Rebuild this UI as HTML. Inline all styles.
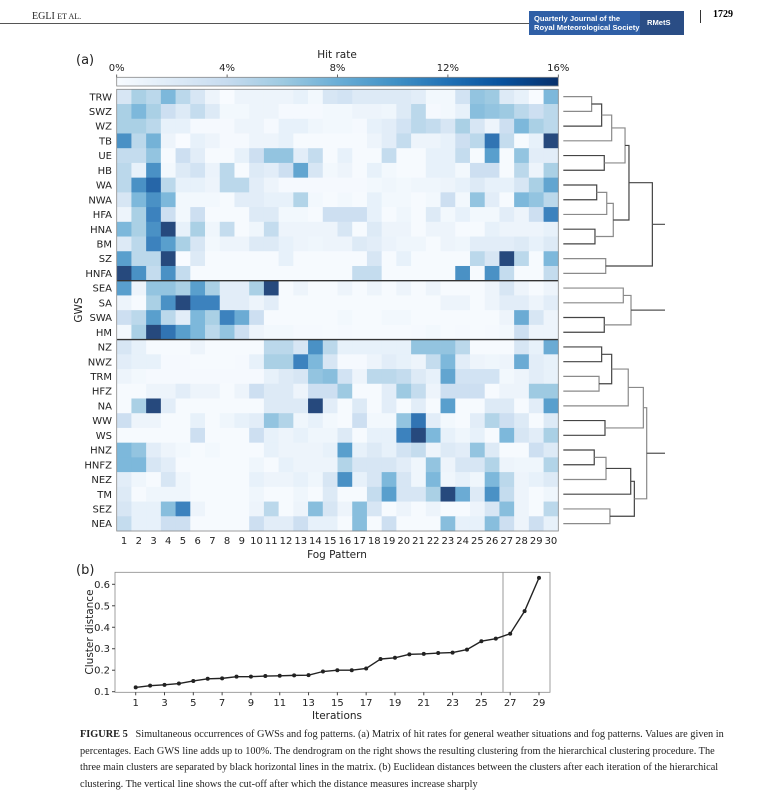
<!DOCTYPE html>
<html><head><meta charset="utf-8">
<style>
html,body{margin:0;padding:0;background:#fff;}
body{width:766px;height:801px;position:relative;overflow:hidden;font-family:"DejaVu Sans","Liberation Sans",sans-serif;}
.cap{position:absolute;left:80px;top:727px;width:648px;font-family:"Liberation Serif",serif;font-size:10.3px;line-height:16.6px;color:#222;}
</style></head><body>
<div style="position:absolute;left:32px;top:11px;font-family:'Liberation Serif',serif;font-size:10px;color:#222;">EGLI <span style="font-size:8px">ET AL.</span></div>
<div style="position:absolute;left:0;top:23px;width:529px;height:1px;background:#555;"></div>
<div style="position:absolute;left:529px;top:11px;width:155px;height:24px;background:#2f5fa6;color:#fff;font-family:'Liberation Sans',sans-serif;font-weight:bold;font-size:7.6px;line-height:9px;">
<div style="position:absolute;left:5px;top:3px;">Quarterly Journal of the<br>Royal Meteorological Society</div>
<div style="position:absolute;left:111px;top:0;width:44px;height:24px;background:#2a4d85;"><span style="position:absolute;left:7px;top:7px;">RMetS</span></div></div>
<div style="position:absolute;left:700px;top:10px;width:1px;height:13px;background:#333;"></div>
<div style="position:absolute;left:713px;top:9px;font-family:'Liberation Serif',serif;font-weight:bold;font-size:10px;">1729</div>

<svg id="chart" width="766" height="801" style="position:absolute;left:0;top:0" xmlns="http://www.w3.org/2000/svg">
<defs><linearGradient id="cb" x1="0" x2="1" y1="0" y2="0">
<stop offset="0" stop-color="#f7fbff"/><stop offset=".125" stop-color="#deebf7"/><stop offset=".25" stop-color="#c6dbef"/><stop offset=".375" stop-color="#9ecae1"/><stop offset=".5" stop-color="#6baed6"/><stop offset=".625" stop-color="#4292c6"/><stop offset=".75" stop-color="#2171b5"/><stop offset=".875" stop-color="#08519c"/><stop offset="1" stop-color="#08306b"/></linearGradient></defs>
<g id="heat"></g>
<g id="cbar"></g>
<g id="dendro"></g>
<g id="lineb"></g>
</svg>
<div class="cap"><b>FIGURE 5</b>&nbsp;&nbsp; Simultaneous occurrences of GWSs and fog patterns. (a) Matrix of hit rates for general weather situations and fog patterns. Values are given in percentages. Each GWS line adds up to 100%. The dendrogram on the right shows the resulting clustering from the hierarchical clustering procedure. The three main clusters are separated by black horizontal lines in the matrix. (b) Euclidean distances between the clusters after each iteration of the hierarchical clustering. The vertical line shows the cut-off after which the distance measures increase sharply</div>
<script>
const rowLabels=["TRW","SWZ","WZ","TB","UE","HB","WA","NWA","HFA","HNA","BM","SZ","HNFA","SEA","SA","SWA","HM","NZ","NWZ","TRM","HFZ","NA","WW","WS","HNZ","HNFZ","NEZ","TM","SEZ","NEA"];
const colLabels=[1,2,3,4,5,6,7,8,9,10,11,12,13,14,15,16,17,18,19,20,21,22,23,24,25,26,27,28,29,30];
const cbTicks=[0,4,8,12,16];
const hitRates=[
[3,6,5,8,5,3,1,0,1,1,1,1,1.5,0.5,3,3.5,2.5,2.5,2.5,2.5,2,0.5,0.5,3.5,7,6.5,2.5,1.5,0,8],
[6,8,6,4,2.5,4.5,2.5,0.5,0.5,1,1,0.3,0.3,0.3,0.5,0.5,1,1,0.8,2.5,5,0.3,0.5,1.5,7.5,7,6.5,5,4,5],
[6,6,5,1.5,1.5,0.3,0.3,0.3,1,1,0.3,1.5,1.5,0.8,0.5,0.5,0.3,1.5,2,3.5,5,4.5,3,6,3,1,4,8,6,5],
[11,5,8.5,1,0,1.5,1,0.3,0.3,1,1,1.5,0.2,0.2,0.2,0.2,0.2,1,2,4.5,1,1,1.5,4,5,13,4.5,0.2,1.5,16],
[4.5,4.5,7,0.2,4,2,0.2,0.2,1.5,4,7,7,2,4.5,0.2,1.5,0.2,0.2,4.5,0.2,0.2,1.5,1.5,4.5,0.2,10,0.2,7,2,2],
[5,1.5,11,0.5,2.5,3.5,1.2,5,0.2,2.5,2,4,9.5,3,0.5,1,0.2,1.5,0.5,0.2,0.2,1.5,1.5,0.5,4,4,0.2,5,1,6],
[5,11,14,5,1.5,1.5,1,5,5,2,1,0.3,0.3,0.3,0.3,0.3,0.3,0.5,0.8,0.5,0.8,0.8,1,1.5,2.5,1.5,1.5,3,6,9.5],
[3,8,11,8,0.5,0.5,0.5,0.2,2,2,1.5,1.5,5.5,0.5,0.2,0.5,0.2,1.5,0.5,0.5,0.2,0.5,4,0.5,7,2,0.2,8,7,5],
[1,6,12,4,0.5,4,0.2,0.2,0.2,2.5,2.5,0.5,0.5,0.2,4,4,4,1.5,0.2,0.8,0.2,2.5,0.5,1.5,0.5,0.5,2,1,4,12],
[8,6,11,16,1.5,6,0.8,4.5,0.2,0.8,4.5,1,1,1,1,3,0.2,2.5,1,1,0.2,1,1,0.2,0.2,1.5,1,1,1,1.5],
[2.5,5,12,10,6,3,0.5,1,1,2.5,2.5,1.5,1,0.8,1,1,2.5,2,1.2,0.8,0.8,0.2,1,0.8,2,2,2,2.5,1.5,2.5],
[10,5,5,16,0,2.5,0.2,0.2,0.2,0.2,0.2,1.5,0.2,0.2,0.2,0.2,0.2,3,0.2,1.5,0.2,0.2,0.2,0.2,5,3,16,5,0.2,8],
[16,11,4.5,11,4.5,0.2,0.2,0.2,0.2,0.2,0.2,0.2,0.2,0.2,0.2,0.2,4.5,4.5,0.2,0.2,0.2,0.2,0.2,11,0.2,11,4.5,0.2,0.2,4.5],
[10,1,7,7,6,10,6,2,2,6,16,0.2,1,0.2,0.2,1,0.2,1,0.2,1,0.2,1,0.2,0.2,0.2,1,3,1,0.2,1],
[1,0.2,6,11,16,12,12,2,2,1,2,0.2,0.2,0.2,0.2,0.2,0.2,0.2,0.2,0.2,0.2,0.2,1,1,0.2,1,2,2,1,2],
[4,5,10,5,2,8,6,12,9,4,0.2,0.2,0.2,0.2,0.2,0.5,0.2,0.2,0.5,0.5,0.2,0.2,0.2,0.2,0.2,0.2,1,9,3,1],
[0.5,6,16,13,10,8,5,7,4,1,0.5,0.5,0.3,0.3,0.2,0.3,0.2,0.2,0.2,0.2,0.3,0.5,0.2,0.3,0.2,0.3,0.5,4,1,1],
[3,1.5,0.2,0.2,0.2,1,0.2,0.2,0.2,0.2,5,5,3,11,5,1.5,1.5,1.5,1.5,1.5,7,7,7,5,0.2,0.2,0.2,3,1.5,9],
[2,1.5,1.5,0.3,0.3,0.2,0.2,0.2,0.3,1.5,6,6,12,8,3,0.3,0.3,1,2,1.5,1,4.5,8,2,1,0.8,1,9,2,1.5],
[1,0.5,0.3,0.3,0.3,0.3,0.3,0.3,0.3,0.3,1.5,2.5,3,7,7.5,3.5,1,5,5,4.5,2.5,1.5,9.5,3.5,3.5,3.5,0.5,1,2,1.5],
[0.2,0.2,1,1,2,1,1,0.2,1,4,2.5,2.5,1,4,4,6.5,0.2,0.2,2,6.5,4.5,1,4,4,4,0.2,1,1,6.5,6.5],
[0.2,6,16,2,0.2,0.2,0.2,0.2,0.2,0.2,2.5,2.5,2.5,16,2,0.2,2.5,0.2,2,0.2,2,0.2,10,0.2,0.2,2.5,2.5,0.2,2,10],
[4,1,1,0.2,0.2,1.5,0.2,0.8,1.5,2,7,5.5,0.8,1.5,0.5,0.2,4,0.5,0.5,7,13,2,0.5,0.2,2,5.5,4,2.5,0.2,2.5],
[0.2,0.2,0.2,0.2,0.2,4,0.2,0.2,0.2,4,1.5,1,1.5,0.8,0.8,2.5,0.2,1.5,1.5,12,16,8,1.5,0.8,1.5,0.2,8,3,2,6],
[8,7,2,1,0.5,0.2,0.5,0.2,0.2,0.2,1.5,1,1,1,1.5,10,1.5,2.5,1.5,3.5,4.5,1,2.5,2,7,2.5,0.2,0.2,4,2.5],
[8,8,3,2,0.2,0.2,0.2,0.2,0.2,0.8,0.2,1.5,1,1,1,5.5,3,3,3,2,0.8,7,1,3,3,5.5,1,0.8,0.8,5.5],
[2,0.8,0.2,3,0.8,0.2,0.2,0.2,0.2,1.5,1,1,1.5,0.8,3,11,1.5,3,8,3,0.8,8,0.8,1.5,0.8,8,5,1,1.5,2.5],
[2.5,0.2,0.8,0.8,0.8,0.2,0.2,0.2,0.2,0.8,0.2,0.2,0.8,0.2,2.5,0.2,0.2,4.5,10,3,3,6,16,9,2.5,11,4.5,1,0.2,0.8],
[3,1.5,1.5,7.5,12,1,0.2,0.2,0.2,1,5,0.2,1,7.5,3,1,7.5,3,0.2,1,0.2,1,0.2,0.2,1,3,7.5,1,0.2,5],
[4.5,1.5,1.5,4,4,0.2,0.2,0.2,0.2,4,2,2,4,1.5,1.5,0.2,7.5,0.2,4,0.2,0.2,0.2,7.5,1.5,1.5,7.5,4,1,4,1.5]];
const clusterBreaks=[13,17];
// dendrogram merges: [leftNode,rightNode,height]; leaves are row indices, new nodes numbered from 30
const merges=[[0,1,0.195],[30,2,0.264],[31,3,0.333],[4,5,0.282],[32,33,0.425],[6,7,0.23],[35,8,0.299],[9,10,0.218],[36,37,0.344],[34,38,0.452],[11,12,0.292],[39,40,0.613],
[13,14,0.413],[15,16,0.282],[42,43,0.466],[17,18,0.264],[19,20,0.246],[45,46,0.333],[47,21,0.447],[22,23,0.287],[48,49,0.551],[24,25,0.213],[51,26,0.294],[52,27,0.464],[28,29,0.321],[53,54,0.489],[50,55,0.574]];
const iterations=[1,2,3,4,5,6,7,8,9,10,11,12,13,14,15,16,17,18,19,20,21,22,23,24,25,26,27,28,29];
const distances=[0.12,0.128,0.132,0.138,0.15,0.16,0.162,0.17,0.17,0.173,0.174,0.176,0.177,0.194,0.2,0.2,0.208,0.252,0.258,0.274,0.276,0.28,0.282,0.296,0.335,0.347,0.37,0.475,0.63];
const xTicksB=[1,3,5,7,9,11,13,15,17,19,21,23,25,27,29];
const yTicksB=[0.1,0.2,0.3,0.4,0.5,0.6];
const cutoff=26.5;

const NS="http://www.w3.org/2000/svg";
function mk(p,t,a,txt){const e=document.createElementNS(NS,t);for(const k in a)e.setAttribute(k,a[k]);if(txt!==undefined)e.textContent=txt;p.appendChild(e);return e;}
const stops=[[247,251,255],[222,235,247],[198,219,239],[158,202,225],[107,174,214],[66,146,198],[33,113,181],[8,81,156],[8,48,107]];
function cmap(v){let t=Math.max(0,Math.min(1,v/16))*8;let i=Math.min(7,Math.floor(t)),f=t-i;const c=stops[i].map((s,k)=>Math.round((s+(stops[i+1][k]-s)*f)*0.88+255*0.12));return `rgb(${c[0]},${c[1]},${c[2]})`;}
const HX0=116.7,HX1=558.3,HY0=89.3,HY1=531;
const cw=(HX1-HX0)/colLabels.length,rh=(HY1-HY0)/rowLabels.length;
const hx=j=>HX0+j*cw, hy=i=>HY0+i*rh;
const heat=document.getElementById('heat');
hitRates.forEach((row,i)=>row.forEach((v,j)=>{const r=mk(heat,'rect',{x:hx(j),y:hy(i),width:cw+0.4,height:rh+0.4,fill:cmap(v)});

}));
rowLabels.forEach((l,i)=>{const t=mk(heat,'text',{x:112,y:hy(i)+rh/2+3.6,'text-anchor':'end','font-size':10,fill:'#222'},l);

});
colLabels.forEach((l,j)=>{const t=mk(heat,'text',{x:hx(j)+cw/2,y:544,'text-anchor':'middle','font-size':10,fill:'#222'},l);

});
clusterBreaks.forEach(b=>{const l=mk(heat,'line',{x1:HX0,x2:HX1,y1:hy(b),y2:hy(b),stroke:'#333','stroke-width':1.4});

});
mk(heat,'rect',{x:HX0,y:HY0,width:HX1-HX0,height:HY1-HY0,fill:'none',stroke:'#888','stroke-width':0.8});
let t=mk(heat,'text',{x:337,y:558,'text-anchor':'middle','font-size':10.5,fill:'#222'},'Fog Pattern');

t=mk(heat,'text',{x:82,y:310,'text-anchor':'middle','font-size':10.5,fill:'#222',transform:'rotate(-90 82 310)'},'GWS');

t=mk(heat,'text',{x:76,y:64,'font-size':13,fill:'#222'},'(a)');

// colorbar
const cb=document.getElementById('cbar');
mk(cb,'rect',{x:HX0,y:77.3,width:HX1-HX0,height:8.7,fill:'url(#cb)',stroke:'#888','stroke-width':0.8});
const cx=v=>HX0+(HX1-HX0)*v/16;
cbTicks.forEach(v=>{const e=mk(cb,'text',{x:cx(v),y:71,'text-anchor':'middle','font-size':10,fill:'#222'},v+'%');


mk(cb,'line',{x1:cx(v),x2:cx(v),y1:74.5,y2:77.3,stroke:'#444','stroke-width':0.8});});
t=mk(cb,'text',{x:337,y:58,'text-anchor':'middle','font-size':10.5,fill:'#222'},'Hit rate');

// dendrogram
const dg=document.getElementById('dendro');
const DX0=563.3,DX1=665,DH=0.7;
const dx=h=>DX0+(DX1-DX0)*h/DH;
const pos={},ht={};
rowLabels.forEach((l,i)=>{pos[i]=hy(i)+rh/2;ht[i]=0;});
merges.forEach((m,k)=>{const id=30+k,[a,b,h]=m;
const p=mk(dg,'path',{d:`M${dx(ht[a])},${pos[a]}H${dx(h)}V${pos[b]}H${dx(ht[b])}`,fill:'none',stroke:k%2?'#444':'#8a8a8a','stroke-width':1.2});


pos[id]=(pos[a]+pos[b])/2;ht[id]=h;});
[41,44,56].forEach(n=>{mk(dg,'line',{x1:dx(ht[n]),x2:DX1,y1:pos[n],y2:pos[n],stroke:'#555','stroke-width':1.2});});
// panel b
const lb=document.getElementById('lineb');
const BX0=115,BX1=550,BY0=572.3,BY1=692.3;
const bx=v=>135.7+(v-1)*(539-135.7)/28, by=v=>691.7-(v-0.1)*(691.7-584.3)/0.5;
mk(lb,'rect',{x:BX0,y:BY0,width:BX1-BX0,height:BY1-BY0,fill:'none',stroke:'#888','stroke-width':0.8});
xTicksB.forEach(v=>{mk(lb,'line',{x1:bx(v),x2:bx(v),y1:BY1,y2:BY1+3,stroke:'#444'});
const e=mk(lb,'text',{x:bx(v),y:706,'text-anchor':'middle','font-size':10,fill:'#222'},v);

});
yTicksB.forEach(v=>{mk(lb,'line',{x1:BX0-3,x2:BX0,y1:by(v),y2:by(v),stroke:'#444'});
const e=mk(lb,'text',{x:BX0-5,y:by(v)+3.5,'text-anchor':'end','font-size':10,fill:'#222'},v.toFixed(1));

});
t=mk(lb,'line',{x1:bx(cutoff),x2:bx(cutoff),y1:BY0,y2:BY1,stroke:'#999','stroke-width':1});

t=mk(lb,'polyline',{points:iterations.map((v,i)=>bx(v)+','+by(distances[i])).join(' '),fill:'none',stroke:'#222','stroke-width':1.4});

iterations.forEach((v,i)=>{const c=mk(lb,'circle',{cx:bx(v),cy:by(distances[i]),r:2,fill:'#222'});

});
t=mk(lb,'text',{x:337,y:719,'text-anchor':'middle','font-size':10.5,fill:'#222'},'Iterations');

t=mk(lb,'text',{x:93,y:632,'text-anchor':'middle','font-size':10.5,fill:'#222',transform:'rotate(-90 93 632)'},'Cluster distance');

t=mk(lb,'text',{x:76,y:574,'font-size':13,fill:'#222'},'(b)');

</script>
</body></html>
